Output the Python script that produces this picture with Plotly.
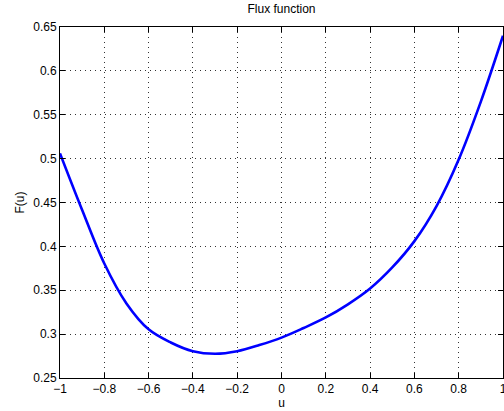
import plotly.graph_objects as go

u_vals = [-1.0, -0.9, -0.8, -0.7, -0.6, -0.5, -0.4, -0.3, -0.2, -0.1,
          0.0, 0.1, 0.2, 0.3, 0.4, 0.5, 0.6, 0.7, 0.8, 0.9, 1.0]
F_vals = [0.506, 0.4415, 0.3805, 0.335, 0.3055, 0.2905, 0.2805, 0.2776, 0.2805, 0.2875,
          0.296, 0.307, 0.319, 0.334, 0.352, 0.376, 0.406, 0.446, 0.499, 0.565, 0.640]

x_ticks = [-1, -0.8, -0.6, -0.4, -0.2, 0, 0.2, 0.4, 0.6, 0.8, 1]
y_ticks = [0.25, 0.3, 0.35, 0.4, 0.45, 0.5, 0.55, 0.6, 0.65]

fig = go.Figure()
fig.add_trace(go.Scatter(x=u_vals, y=F_vals, mode="lines",
                         line=dict(color="#0000ff", width=2.6, shape="spline", smoothing=1.0),
                         showlegend=False, hoverinfo="skip"))

axis_common = dict(showline=True, linecolor="black", linewidth=1, mirror="ticks",
                   ticks="inside", ticklen=5, tickcolor="black",
                   showgrid=True, gridcolor="#333333", griddash="1px,4px", gridwidth=1,
                   zeroline=False, automargin=False, ticklabeloverflow="allow",
                   tickfont=dict(size=12, color="black"))

fig.update_layout(
    width=504, height=411,
    margin=dict(l=60, r=1, t=27, b=33),
    paper_bgcolor="white", plot_bgcolor="white",
    font=dict(family="Liberation Sans, Arial, Helvetica, sans-serif", size=12, color="black"),
    title=dict(text="Flux function", x=0.5, xref="paper", xanchor="center",
               y=1, yref="container", yanchor="top", pad=dict(t=5),
               font=dict(size=12)),
    xaxis=dict(range=[-1, 1], tickvals=x_ticks,
               ticktext=[("−" if v < 0 else "") + ("%g" % abs(v)) for v in x_ticks],
               title=dict(text="u", standoff=2, font=dict(size=12)), **axis_common),
    yaxis=dict(range=[0.25, 0.65], tickvals=y_ticks, ticktext=["%g" % v for v in y_ticks],
               title=dict(text="F(u)", standoff=6, font=dict(size=12)), **axis_common),
)

fig.write_html("out.html", config={"displayModeBar": False},
               post_script="document.body.style.margin='0';document.body.style.overflow='hidden';")
